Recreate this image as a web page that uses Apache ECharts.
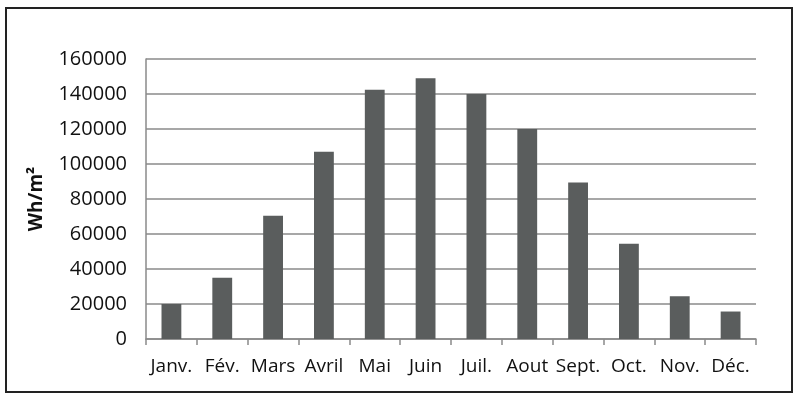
<!DOCTYPE html>
<html><head><meta charset="utf-8">
<script src="https://cdn.jsdelivr.net/npm/echarts@6/dist/echarts.min.js"></script>
<style>html,body{margin:0;padding:0;background:#fff}#c{width:800px;height:401px}</style>
</head><body><div id="c"></div>
<script>
const categories = ['Janv.','Fév.','Mars','Avril','Mai','Juin','Juil.','Aout','Sept.','Oct.','Nov.','Déc.'];
const values = [20000,35000,70500,107000,142500,149000,140000,120000,89500,54500,24500,15700];
const yAxisName = 'Wh/m²';
const chart = echarts.init(document.getElementById('c'));
const font = '"Open Sans", sans-serif';
chart.setOption({
  animation:false,
  backgroundColor:'#fff',
  graphic:[{type:'rect',shape:{x:6,y:8,width:786,height:384},style:{fill:'none',stroke:'#222',lineWidth:2}}],
  grid:{left:146,right:44,top:59,bottom:62,containLabel:false},
  xAxis:{type:'category',data:categories,boundaryGap:true,
    axisLine:{lineStyle:{color:'#8a8a8a',width:1.5}},
    axisTick:{show:true,length:6,lineStyle:{color:'#8a8a8a',width:1.5}},
    axisLabel:{color:'#111',fontFamily:font,fontSize:19,margin:18,interval:0,hideOverlap:false}},
  yAxis:{type:'value',min:0,max:160000,interval:20000,
    name:yAxisName,nameLocation:'middle',nameGap:100,nameRotate:90,
    nameTextStyle:{color:'#111',fontFamily:font,fontSize:19,fontWeight:'bold'},
    axisLine:{show:true,lineStyle:{color:'#8a8a8a',width:1.5}},
    axisTick:{show:false},
    splitLine:{lineStyle:{color:'#8a8a8a',width:1.5}},
    axisLabel:{color:'#111',fontFamily:font,fontSize:20,margin:19,formatter:v=>String(v)}},
  series:[{type:'bar',data:values,barWidth:'39%',itemStyle:{color:'#5a5d5d'}}]
});
</script></body></html>
